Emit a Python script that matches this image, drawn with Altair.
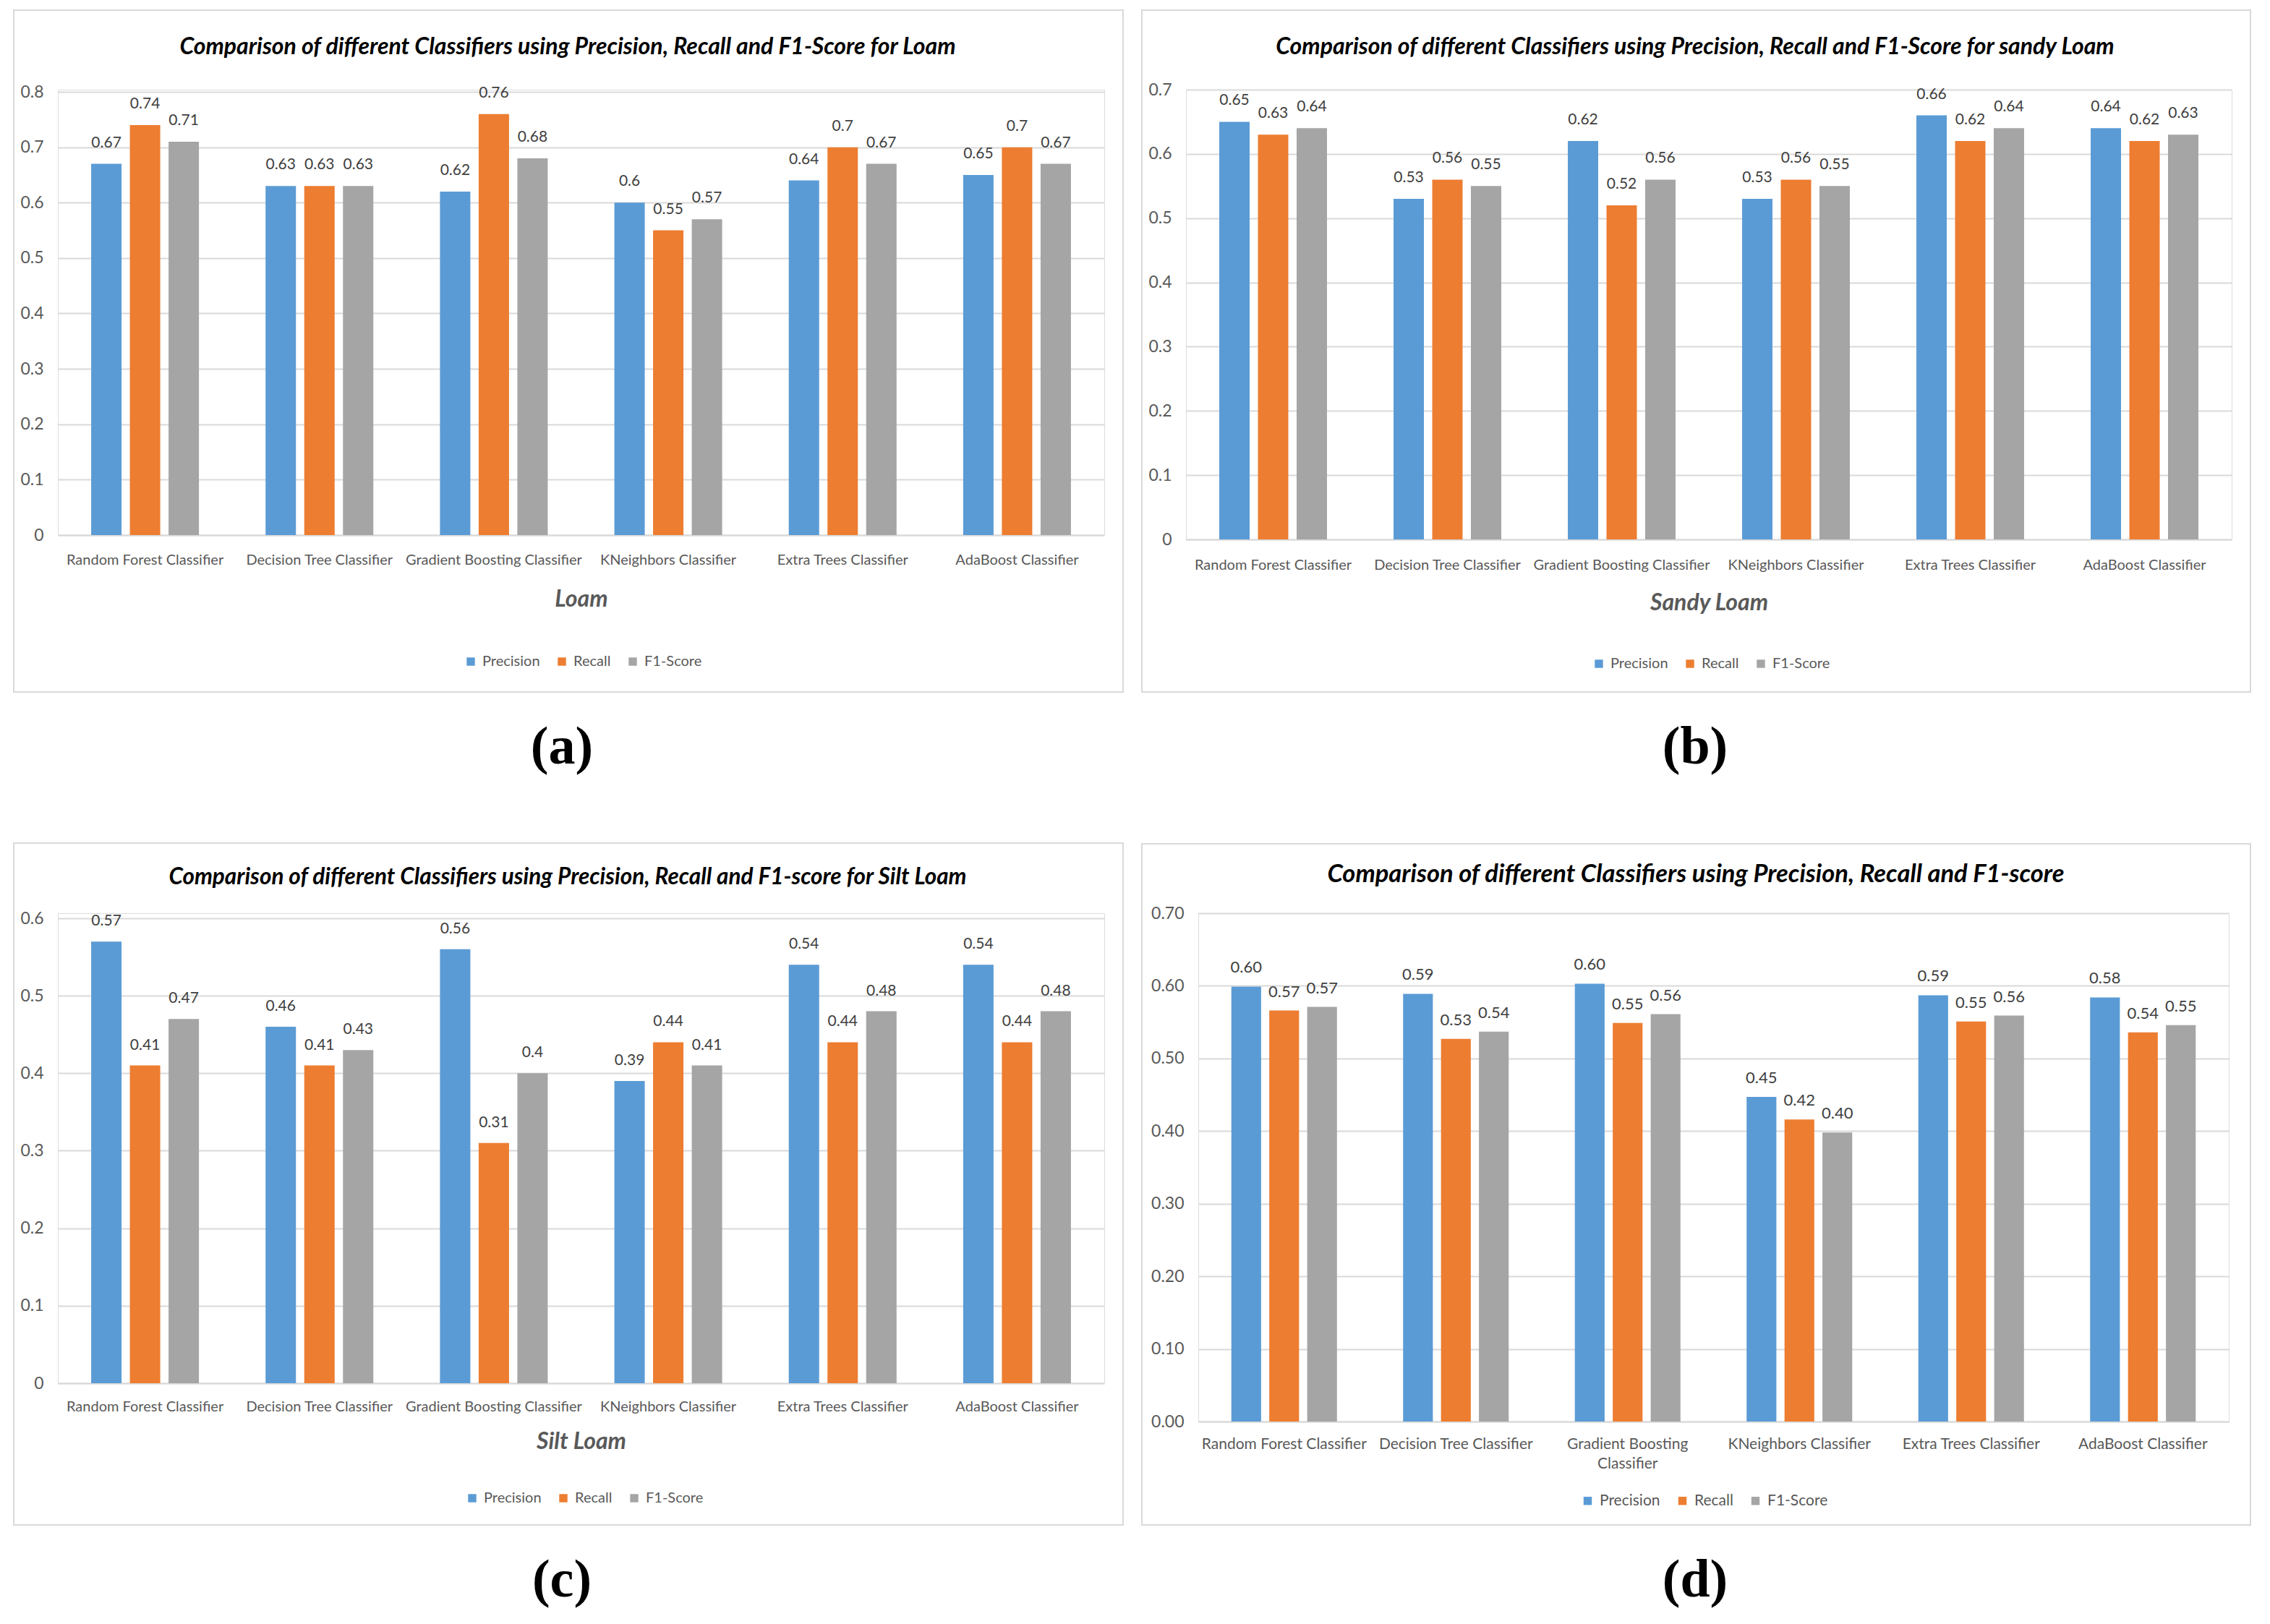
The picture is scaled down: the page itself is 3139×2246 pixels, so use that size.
import altair as alt
import pandas as pd

# ---------------- data ----------------
classifiers = [
    "Random Forest Classifier",
    "Decision Tree Classifier",
    "Gradient Boosting Classifier",
    "KNeighbors Classifier",
    "Extra Trees Classifier",
    "AdaBoost Classifier",
]
metrics = ["Precision", "Recall", "F1-Score"]
colors = ["#5B9BD5", "#ED7D31", "#A5A5A5"]

loam_precision = [0.67, 0.63, 0.62, 0.60, 0.64, 0.65]
loam_recall = [0.74, 0.63, 0.76, 0.55, 0.70, 0.70]
loam_f1 = [0.71, 0.63, 0.68, 0.57, 0.67, 0.67]

sandy_precision = [0.65, 0.53, 0.62, 0.53, 0.66, 0.64]
sandy_recall = [0.63, 0.56, 0.52, 0.56, 0.62, 0.62]
sandy_f1 = [0.64, 0.55, 0.56, 0.55, 0.64, 0.63]

silt_precision = [0.57, 0.46, 0.56, 0.39, 0.54, 0.54]
silt_recall = [0.41, 0.41, 0.31, 0.44, 0.44, 0.44]
silt_f1 = [0.47, 0.43, 0.40, 0.41, 0.48, 0.48]

overall_precision = [0.599, 0.589, 0.603, 0.447, 0.587, 0.584]
overall_recall = [0.566, 0.527, 0.549, 0.416, 0.551, 0.536]
overall_f1 = [0.571, 0.537, 0.561, 0.398, 0.559, 0.546]

titles = [
    "Comparison of different Classifiers using Precision, Recall and F1-Score for Loam",
    "Comparison of different Classifiers using Precision, Recall and F1-Score for sandy Loam",
    "Comparison of different Classifiers using Precision, Recall and F1-score for Silt Loam",
    "Comparison of different Classifiers using Precision, Recall and F1-score",
]
axis_titles = ["Loam", "Sandy Loam", "Silt Loam", ""]
letters = ["(a)", "(b)", "(c)", "(d)"]

FONT = "Lato, DejaVu Sans Condensed, sans-serif"
GRID = "#D9D9D9"
TXT = "#595959"


def one():
    return pd.DataFrame({"k": [0]})


def panel(prec, rec, f1, title, xtitle, letter, *, width, height, ydom, nticks,
          tick_fmt, lab_fmt, pin, box, extent, title_xy, title_size, legend_xy,
          xtitle_y, letter_xy, label_pad, label_dy, text_size, tick_size,
          multiline=False):
    rows = []
    for i, c in enumerate(classifiers):
        for m, vals in zip(metrics, [prec, rec, f1]):
            rows.append({"Classifier": c, "Metric": m, "Value": vals[i]})
    df = pd.DataFrame(rows)

    xaxis_kw = dict(
        labelAngle=0, ticks=False, grid=False, domainColor=GRID, domainWidth=2,
        labelColor=TXT, labelFont=FONT, labelFontSize=text_size, labelPadding=label_pad,
        labelLimit=600, labelLineHeight=27,
    )
    if xtitle:
        xaxis_kw.update(
            title=xtitle, titleFont=FONT, titleFontSize=32, titleFontStyle="italic",
            titleFontWeight="bold", titleColor=TXT, titleY=xtitle_y,
            titleBaseline="middle",
        )
    else:
        xaxis_kw.update(title=None)
    if multiline:
        xaxis_kw.update(
            labelExpr="datum.label == 'Gradient Boosting Classifier' ? "
                      "['Gradient Boosting', 'Classifier'] : datum.label"
        )

    ticks = [round(0.1 * i, 1) for i in range(nticks + 1)]

    base = alt.Chart(df).encode(
        x=alt.X(
            "Classifier:N", sort=classifiers,
            scale=alt.Scale(domain=classifiers, paddingInner=pin, paddingOuter=pin / 2),
            axis=alt.Axis(**xaxis_kw),
        ),
        xOffset=alt.XOffset(
            "Metric:N", sort=metrics,
            scale=alt.Scale(domain=metrics, paddingInner=0.215, paddingOuter=0),
        ),
        y=alt.Y(
            "Value:Q",
            scale=alt.Scale(domain=[0, ydom], nice=False),
            axis=alt.Axis(
                values=ticks, format=tick_fmt, title=None, domain=False, ticks=False,
                grid=True, gridColor=GRID, gridWidth=2, labelColor=TXT,
                labelFont=FONT, labelFontSize=tick_size, labelPadding=20,
            ),
        ),
    )

    bars = base.mark_bar().encode(
        color=alt.Color(
            "Metric:N", sort=metrics,
            scale=alt.Scale(domain=metrics, range=colors),
            legend=alt.Legend(
                title=None, orient="none", legendX=legend_xy[0], legendY=legend_xy[1],
                direction="horizontal", symbolType="square", symbolSize=130,
                symbolStrokeWidth=0, labelFont=FONT, labelFontSize=text_size,
                labelColor=TXT, columnPadding=20, labelOffset=6, padding=0,
            ),
        )
    )
    labels = base.mark_text(
        dy=label_dy, baseline="middle", align="center", font=FONT,
        fontSize=text_size + 1, color="#404040",
    ).encode(text=alt.Text("Value:Q", format=lab_fmt))

    frame = alt.Chart(one()).mark_rect(
        fillOpacity=0, stroke=GRID, strokeWidth=2
    ).encode(
        x=alt.value(box[0]), x2=alt.value(box[1]),
        y=alt.value(box[2]), y2=alt.value(box[3]),
    )
    ext = alt.Chart(one()).mark_rect(opacity=0).encode(
        x=alt.value(extent[0]), x2=alt.value(extent[1]),
        y=alt.value(extent[2]), y2=alt.value(extent[3]),
    )
    ttl = alt.Chart(one()).mark_text(
        text=title, font=FONT, fontSize=title_size, fontStyle="italic", fontWeight="bold",
        color="#000000", align="center", baseline="middle",
    ).encode(x=alt.value(title_xy[0]), y=alt.value(title_xy[1]))
    let = alt.Chart(one()).mark_text(
        text=letter, font="Liberation Serif, DejaVu Serif, serif", fontSize=74,
        fontWeight="bold", color="#000000", align="center", baseline="middle",
    ).encode(x=alt.value(letter_xy[0]), y=alt.value(letter_xy[1]))

    return alt.layer(frame, ext, bars, labels, ttl, let).properties(
        width=width, height=height
    )


pa = panel(
    loam_precision, loam_recall, loam_f1, titles[0], axis_titles[0], letters[0],
    width=1447, height=616, ydom=0.8 * 616 / 613, nticks=8, tick_fmt=".1~f",
    lab_fmt=".2~f", pin=0.382, box=(-61, 1473, -110, 833),
    extent=(-61, 1496, -110, 1039), title_xy=(705, -59), title_size=32,
    legend_xy=(561, 781), xtitle_y=88, letter_xy=(697, 910), label_pad=24,
    label_dy=-29, text_size=20, tick_size=23,
)
pb = panel(
    sandy_precision, sandy_recall, sandy_f1, titles[1], axis_titles[1], letters[1],
    width=1446, height=622, ydom=0.7, nticks=7, tick_fmt=".1~f",
    lab_fmt=".2~f", pin=0.382, box=(-61, 1472, -110, 833),
    extent=(-61, 1472, -110, 1039), title_xy=(704, -59), title_size=32,
    legend_xy=(561, 784), xtitle_y=87, letter_xy=(704, 910), label_pad=25,
    label_dy=-29, text_size=20, tick_size=23,
)
pc = panel(
    silt_precision, silt_recall, silt_f1, titles[2], axis_titles[2], letters[2],
    width=1447, height=650, ydom=0.6 * 650 / 643, nticks=6, tick_fmt=".1~f",
    lab_fmt=".2~f", pin=0.382, box=(-61, 1473, -97, 846),
    extent=(-61, 1496, -97, 943), title_xy=(705, -49), title_size=31.5,
    legend_xy=(563, 799), xtitle_y=80, letter_xy=(697, 923), label_pad=22,
    label_dy=-28, text_size=20, tick_size=23,
)
pd_ = panel(
    overall_precision, overall_recall, overall_f1, titles[3], axis_titles[3], letters[3],
    width=1425, height=703, ydom=0.7, nticks=7, tick_fmt=".2f",
    lab_fmt=".2f", pin=0.385, box=(-78, 1455, -96, 846),
    extent=(-78, 1455, -96, 943), title_xy=(688, -53), title_size=34.5,
    legend_xy=(528, 802), xtitle_y=0, letter_xy=(687, 923), label_pad=20,
    label_dy=-26, text_size=21, tick_size=23, multiline=True,
)

res = dict(x="independent", y="independent", color="independent", xOffset="independent")
row1 = alt.hconcat(pa, pb, spacing=0).resolve_scale(**res).resolve_legend(color="independent")
row2 = alt.hconcat(pc, pd_, spacing=0).resolve_scale(**res).resolve_legend(color="independent")

chart = (
    alt.vconcat(row1, row2, spacing=0)
    .resolve_scale(**res)
    .resolve_legend(color="independent")
    .properties(padding={"left": 9, "top": 4, "right": 0, "bottom": 0})
    .configure_view(strokeWidth=0)
    .configure(background="white")
)

chart.save("out.html", embed_options={"renderer": "svg", "actions": False})
